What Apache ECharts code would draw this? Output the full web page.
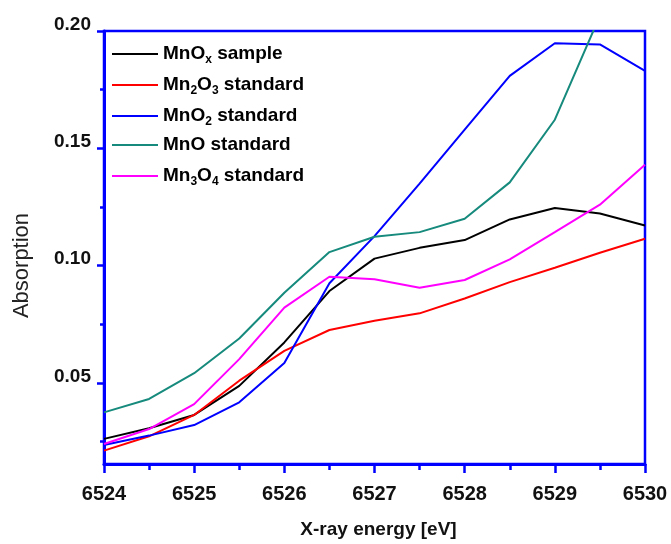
<!DOCTYPE html>
<html>
<head>
<meta charset="utf-8">
<script src="https://cdn.jsdelivr.net/npm/echarts@6/dist/echarts.min.js"></script>
<style>html,body{margin:0;padding:0;background:#fff;}#c{width:671px;height:544px;}</style>
</head>
<body>
<div id="c"></div>
<script>
var energy = [6524, 6524.5, 6525, 6525.5, 6526, 6526.5, 6527, 6527.5, 6528, 6528.5, 6529, 6529.5, 6530];
var mnoxSample = [0.0262, 0.0307, 0.0364, 0.0488, 0.0673, 0.0892, 0.1030, 0.1076, 0.1109, 0.1197, 0.1246, 0.1222, 0.1171];
var mn2o3Std   = [0.0212, 0.0273, 0.0364, 0.0510, 0.0637, 0.0726, 0.0765, 0.0797, 0.0860, 0.0930, 0.0991, 0.1055, 0.1115];
var mno2Std    = [0.0236, 0.0276, 0.0321, 0.0418, 0.0585, 0.0925, 0.1126, 0.1350, 0.1580, 0.1809, 0.1948, 0.1943, 0.1830];
var mnoStd     = [0.0375, 0.0432, 0.0542, 0.0690, 0.0885, 0.1058, 0.1123, 0.1143, 0.1200, 0.1355, 0.1622, 0.2065];
var mn3o4Std   = [0.0240, 0.0304, 0.0410, 0.0602, 0.0821, 0.0953, 0.0942, 0.0906, 0.0939, 0.1027, 0.1143, 0.1260, 0.1430];
var seriesNames = ['MnO{s|x} sample', 'Mn{s|2}O{s|3} standard', 'MnO{s|2} standard', 'MnO standard', 'Mn{s|3}O{s|4} standard'];
var seriesKeys = ['s1', 's2', 's3', 's4', 's5'];
var seriesColors = ['#000000', '#ff0000', '#0000ff', '#168a7c', '#ff00ff'];
var yMajorTicks = [0.05, 0.10, 0.15, 0.20];
var yMinorTicks = [0.025, 0.075, 0.125, 0.175];
var yMin = 0.0155, yMax = 0.2;

var allValues = [mnoxSample, mn2o3Std, mno2Std, mnoStd, mn3o4Std];
function pairs(vals) { return vals.map(function (v, i) { return [energy[i], v]; }); }
var labelMap = {};
seriesKeys.forEach(function (k, i) { labelMap[k] = seriesNames[i]; });

var chart = echarts.init(document.getElementById('c'), null, {renderer: 'canvas'});
var axisBlue = '#0000ff';
var FONT = 'Arial, Liberation Sans, sans-serif';
var option = {
  animation: false,
  backgroundColor: '#ffffff',
  grid: {left: 104, right: 26, top: 31, bottom: 77, show: true, borderColor: axisBlue, borderWidth: 2.5, backgroundColor: 'transparent'},
  legend: {
    left: 107, top: 35, orient: 'vertical', itemWidth: 46, itemHeight: 14, itemGap: 5,
    icon: 'path://M0,6 L46,6 L46,8 L0,8 Z',
    data: seriesKeys,
    formatter: function (n) { return labelMap[n]; },
    textStyle: {
      fontFamily: FONT, fontSize: 19, fontWeight: 'bold', color: '#000',
      lineHeight: 24, padding: [0, 0, 0, 0],
      rich: {s: {fontSize: 12, fontWeight: 'bold', fontFamily: FONT, color: '#000', verticalAlign: 'bottom', lineHeight: 10, padding: [14, 0, 0, 0]}}
    }
  },
  xAxis: {
    type: 'value', min: 6524, max: 6530, interval: 1,
    name: 'X-ray energy [eV]', nameLocation: 'middle', nameGap: 56,
    nameTextStyle: {fontFamily: FONT, fontSize: 19, fontWeight: 'bold', color: '#111', padding: [0, 0, 0, 8]},
    axisLine: {show: true, lineStyle: {color: axisBlue, width: 3}},
    axisTick: {show: true, inside: false, length: 9, lineStyle: {color: axisBlue, width: 2.5}},
    minorTick: {show: true, splitNumber: 2, length: 6, lineStyle: {color: axisBlue, width: 2.5}},
    splitLine: {show: false},
    axisLabel: {fontFamily: FONT, fontSize: 20, fontWeight: 'bold', color: '#111', margin: 20,
      formatter: function (v) { return String(v); }}
  },
  yAxis: [{
    type: 'value', min: yMin, max: yMax,
    name: 'Absorption', nameLocation: 'middle', nameGap: 71, nameRotate: 90,
    nameTextStyle: {fontFamily: FONT, fontSize: 22, color: '#222', padding: [0, 0, 0, -36]},
    axisLine: {show: true, lineStyle: {color: axisBlue, width: 3}},
    axisTick: {show: true, length: 7, customValues: yMajorTicks, lineStyle: {color: axisBlue, width: 2.5}},
    splitLine: {show: false},
    axisLabel: {customValues: yMajorTicks, fontFamily: FONT, fontSize: 19, fontWeight: 'bold', color: '#111', margin: 13,
      verticalAlign: 'bottom', lineHeight: 13,
      formatter: function (v) { return v.toFixed(2); }}
  }, {
    type: 'value', min: yMin, max: yMax, position: 'left',
    axisLine: {show: false},
    axisTick: {show: true, length: 4, customValues: yMinorTicks, lineStyle: {color: axisBlue, width: 2.5}},
    axisLabel: {show: false},
    splitLine: {show: false}
  }],
  series: allValues.map(function (vals, i) {
    return {
      name: seriesKeys[i], type: 'line', data: pairs(vals), yAxisIndex: 0,
      symbol: 'none', clip: true,
      lineStyle: {color: seriesColors[i], width: 2},
      itemStyle: {color: seriesColors[i]}
    };
  })
};
chart.setOption(option);
</script>
</body>
</html>
